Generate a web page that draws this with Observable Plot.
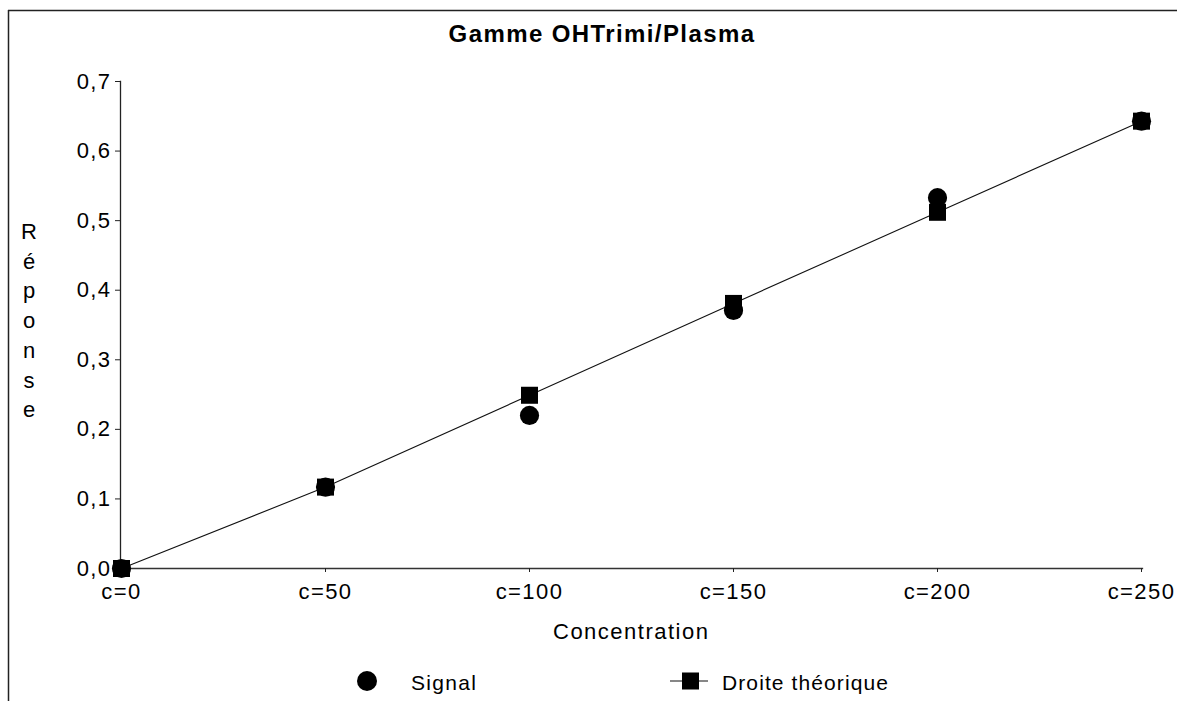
<!DOCTYPE html>
<html>
<head>
<meta charset="utf-8">
<script src="https://cdn.jsdelivr.net/npm/d3@7"></script>
<script src="https://cdn.jsdelivr.net/npm/@observablehq/plot@0.6"></script>
<style>
  body { margin: 0; background: #fff; }
  #wrap { position: relative; width: 1177px; height: 701px; overflow: hidden; font-family: "Liberation Sans", Arial, sans-serif; color: #000; }
  #chart { position: absolute; left: 0; top: 0; }
  #chart svg text { letter-spacing: 1.4px; }
  #overlay { position: absolute; left: 0; top: 0; pointer-events: none; }
  #overlay text { font-family: "Liberation Sans", Arial, sans-serif; fill: #000; }
</style>
</head>
<body>
<div id="wrap">
  <div id="chart"></div>
  <svg id="overlay" width="1177" height="701"></svg>
</div>
<script>
// ---- Data ----
const categories = ["c=0", "c=50", "c=100", "c=150", "c=200", "c=250"];
const signal     = [0, 0.117, 0.220, 0.371, 0.533, 0.643];
const theorique  = [0, 0.117, 0.249, 0.381, 0.512, 0.643];
const yTicks     = [0, 0.1, 0.2, 0.3, 0.4, 0.5, 0.6, 0.7];
const title      = "Gamme OHTrimi/Plasma";
const xLabel     = "Concentration";
const yLabel     = "Réponse";
const seriesNames = ["Signal", "Droite théorique"];

const signalData = categories.map((c, i) => ({cat: c, v: signal[i]}));
const theoData   = categories.map((c, i) => ({cat: c, v: theorique[i]}));
const fmt = d => d.toFixed(1).replace(".", ",");

const chart = Plot.plot({
  width: 1177,
  height: 701,
  marginTop: 81,
  marginBottom: 133,
  marginLeft: 120,
  marginRight: 35,
  style: {fontFamily: '"Liberation Sans", Arial, sans-serif', fontSize: "22px", color: "#000", background: "transparent"},
  x: {type: "point", domain: categories, padding: 0, label: null},
  y: {domain: [0, 0.7], label: null},
  marks: [
    Plot.frame({anchor: "left", stroke: "#222", strokeWidth: 1.3}),
    Plot.frame({anchor: "bottom", stroke: "#333", strokeWidth: 1.3}),
    Plot.axisY({ticks: yTicks, tickFormat: fmt, tickSize: 5, tickPadding: 4, fontSize: 22, stroke: "#222"}),
    Plot.axisX({tickSize: 4, tickPadding: 11, fontSize: 22, stroke: "#222"}),
    Plot.dot(signalData, {x: "cat", y: "v", symbol: "circle", r: 9.6, fill: "#000", stroke: null}),
    Plot.line(theoData, {x: "cat", y: "v", stroke: "#111", strokeWidth: 1.1}),
    Plot.dot(theoData, {x: "cat", y: "v", symbol: "square", r: 9.6, fill: "#000", stroke: null})
  ]
});
document.getElementById("chart").appendChild(chart);

// ---- Overlay: frame, title, axis labels, legend ----
const ov = d3.select("#overlay");
ov.append("line").attr("x1", 8).attr("x2", 1177).attr("y1", 10.5).attr("y2", 10.5).attr("stroke", "#222").attr("stroke-width", 1.5);
ov.append("line").attr("x1", 8.5).attr("x2", 8.5).attr("y1", 10).attr("y2", 701).attr("stroke", "#222").attr("stroke-width", 1.5);

ov.append("text").attr("x", 602).attr("y", 42).attr("text-anchor", "middle")
  .attr("font-size", 24).attr("font-weight", "bold").attr("letter-spacing", "1.4px").text(title);

ov.append("text").attr("x", 553).attr("y", 639).attr("font-size", 22).attr("letter-spacing", "1.5px").text(xLabel);

Array.from(yLabel).forEach((ch, i) => {
  ov.append("text").attr("x", 29).attr("y", 239 + i * 29.7).attr("text-anchor", "middle")
    .attr("font-size", 22).text(ch);
});

// legend
ov.append("circle").attr("cx", 367).attr("cy", 681).attr("r", 10).attr("fill", "#000");
ov.append("text").attr("x", 411).attr("y", 690).attr("font-size", 21).attr("letter-spacing", "1.3px").text(seriesNames[0]);
ov.append("line").attr("x1", 670).attr("x2", 708).attr("y1", 681).attr("y2", 681).attr("stroke", "#111").attr("stroke-width", 1.1);
ov.append("rect").attr("x", 682).attr("y", 672.5).attr("width", 17).attr("height", 17).attr("fill", "#000");
ov.append("text").attr("x", 722).attr("y", 690).attr("font-size", 21).attr("letter-spacing", "1.1px").text(seriesNames[1]);
</script>
</body>
</html>
